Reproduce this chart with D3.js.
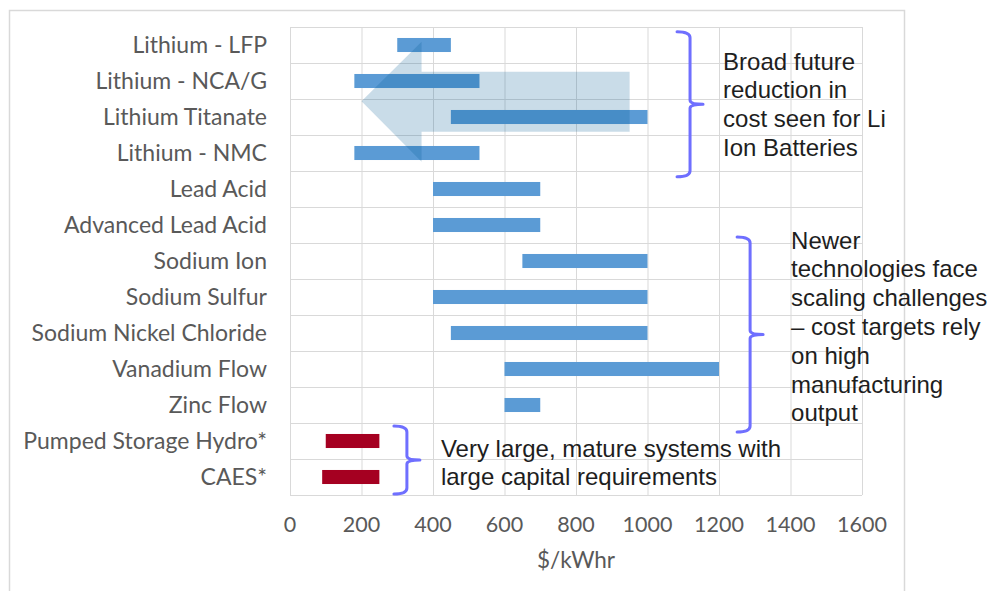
<!DOCTYPE html>
<html>
<head>
<meta charset="UTF-8">
<title>Storage cost ranges</title>
<style>
  body { margin: 0; background: #fff; }
  svg { display: block; }
</style>
</head>
<body>
<script src="https://d3js.org/d3.v7.min.js"></script>
<svg></svg>
<script>
// ---- data ----
const categories = ["Lithium - LFP", "Lithium - NCA/G", "Lithium Titanate", "Lithium - NMC",
  "Lead Acid", "Advanced Lead Acid", "Sodium Ion", "Sodium Sulfur", "Sodium Nickel Chloride",
  "Vanadium Flow", "Zinc Flow", "Pumped Storage Hydro*", "CAES*"];
const lowCost  = [300, 180, 450, 180, 400, 400, 650, 400, 450, 600, 600, 100, 90];
const highCost = [450, 530, 1000, 530, 700, 700, 1000, 1000, 1000, 1200, 700, 250, 250];
const mature   = [false, false, false, false, false, false, false, false, false, false, false, true, true];
const xTicks = [0, 200, 400, 600, 800, 1000, 1200, 1400, 1600];
const xTitle = "$/kWhr";

// arrow outline in (cost, row) units
const arrowPts = [[200, 2.06], [368, 0.41], [368, 1.24], [950, 1.24], [950, 2.91], [368, 2.91], [368, 3.74]];

// brackets: x in cost units, rows top/bottom
const brackets = [
  {x: 1119, r0: 0.13, r1: 4.16, lines: ["Broad future", "reduction in", "cost seen for Li", "Ion Batteries"], dx: 33, ty: 61},
  {x: 1287, r0: 5.83, r1: 11.25, lines: ["Newer", "technologies face", "scaling challenges", "\u2013 cost targets rely", "on high", "manufacturing", "output"], dx: 41, ty: 240},
  {x: 327, r0: 11.08, r1: 12.97, lines: ["Very large, mature systems with", "large capital requirements"], dx: 34, ty: 448}
];

// ---- layout ----
const W = 990, H = 591;
const margin = {top: 27, left: 290};
const width = 572, height = 468;
const labelFont = "Lato, 'Open Sans', sans-serif";

const svg = d3.select("svg").attr("width", W).attr("height", H);

svg.append("rect")
  .attr("x", 9.5).attr("y", 10.5)
  .attr("width", 895).attr("height", 620)
  .attr("fill", "none").attr("stroke", "#d9d9d9").attr("stroke-width", 1.5);

const chart = svg.append("g").attr("transform", "translate(" + margin.left + "," + margin.top + ")");

const x = d3.scaleLinear().domain([0, 1600]).range([0, width]);
const y = d3.scaleBand().domain(categories).range([0, height]).paddingInner(0.61).paddingOuter(0.305);
const row = d3.scaleLinear().domain([0, categories.length]).range([0, height]);

// grid
chart.append("g").selectAll("line.v")
  .data(xTicks).enter().append("line")
  .attr("x1", d => x(d) + 0.5).attr("x2", d => x(d) + 0.5)
  .attr("y1", 0).attr("y2", height)
  .attr("stroke", "#d9d9d9").attr("stroke-width", 1);
chart.append("g").selectAll("line.h")
  .data(d3.range(categories.length + 1)).enter().append("line")
  .attr("x1", 0).attr("x2", width)
  .attr("y1", d => row(d) + 0.5).attr("y2", d => row(d) + 0.5)
  .attr("stroke", "#d9d9d9").attr("stroke-width", 1);

// bars
chart.selectAll("rect.bar")
  .data(categories).enter().append("rect")
  .attr("class", "bar")
  .attr("x", (d, i) => x(lowCost[i]))
  .attr("width", (d, i) => x(highCost[i]) - x(lowCost[i]))
  .attr("y", d => y(d))
  .attr("height", y.bandwidth())
  .attr("fill", (d, i) => mature[i] ? "#a50021" : "#5b9bd5");

// translucent arrow
chart.append("path")
  .attr("d", d3.line().x(d => x(d[0])).y(d => row(d[1]))(arrowPts) + "Z")
  .attr("fill", "#005b91").attr("fill-opacity", 0.21);

// category labels
chart.append("g").selectAll("text")
  .data(categories).enter().append("text")
  .attr("x", -23)
  .attr("y", d => y(d) + y.bandwidth() / 2)
  .attr("dy", "0.35em")
  .attr("text-anchor", "end")
  .attr("font-family", labelFont)
  .attr("font-size", 23)
  .attr("fill", "#595959")
  .text(d => d);

// x tick labels
chart.append("g").selectAll("text")
  .data(xTicks).enter().append("text")
  .attr("x", d => x(d))
  .attr("y", 505)
  .attr("text-anchor", "middle")
  .attr("font-family", labelFont)
  .attr("font-size", 21.5)
  .attr("fill", "#595959")
  .text(d => d);

chart.append("text")
  .attr("x", x(800))
  .attr("y", 541)
  .attr("text-anchor", "middle")
  .attr("font-family", labelFont)
  .attr("font-size", 22.5)
  .attr("fill", "#595959")
  .text(xTitle);

// brackets and notes
function bracketPath(bx, y0, y1) {
  const w = 13, ym = (y0 + y1) / 2;
  return "M" + (bx - w) + "," + y0 +
    " Q" + bx + "," + y0 + " " + bx + "," + (y0 + 6) +
    " L" + bx + "," + (ym - 4) +
    " Q" + bx + "," + ym + " " + (bx + w) + "," + ym +
    " Q" + bx + "," + ym + " " + bx + "," + (ym + 4) +
    " L" + bx + "," + (y1 - 6) +
    " Q" + bx + "," + y1 + " " + (bx - w) + "," + y1;
}

brackets.forEach(b => {
  const bx = x(b.x) + margin.left;
  const y0 = row(b.r0) + margin.top, y1 = row(b.r1) + margin.top;
  svg.append("path")
    .attr("d", bracketPath(bx, y0, y1))
    .attr("fill", "none")
    .attr("stroke", "#6f6fff")
    .attr("stroke-width", 3)
    .attr("stroke-linecap", "round")
    .attr("stroke-linejoin", "round");
  const t = svg.append("text")
    .attr("font-family", "'Liberation Sans', Arial, sans-serif")
    .attr("font-size", 24)
    .attr("fill", "#1e1e1e");
  b.lines.forEach((ln, k) => {
    t.append("tspan")
      .attr("x", bx + b.dx)
      .attr("y", b.ty + 8.5 + k * 28.8)
      .text(ln);
  });
});
</script>
</body>
</html>
